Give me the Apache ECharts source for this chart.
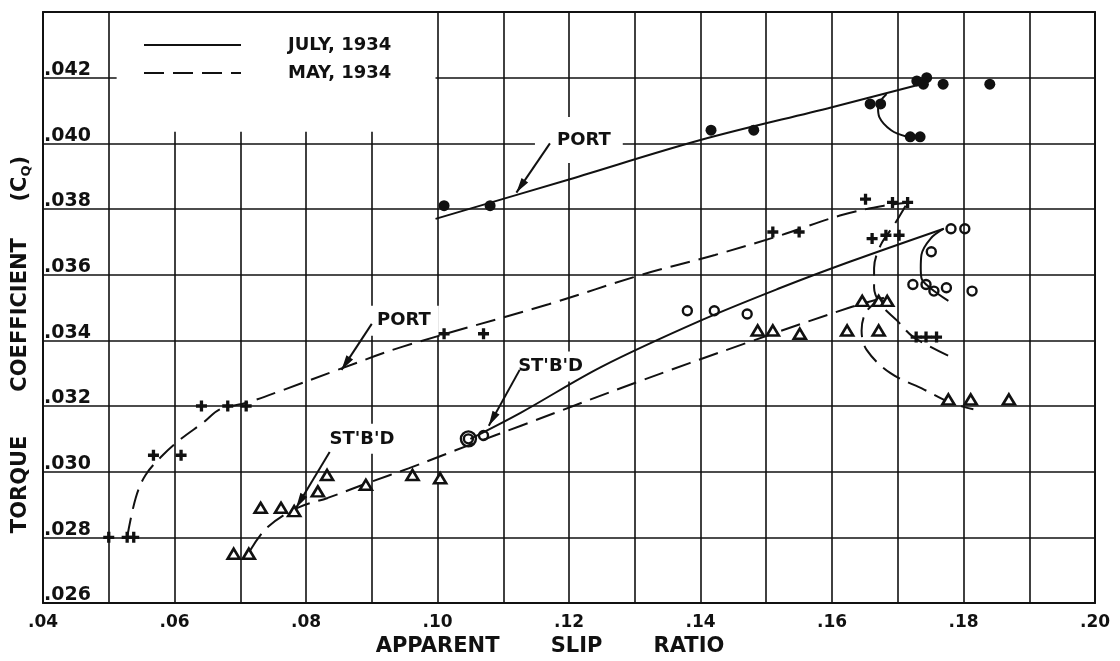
<!DOCTYPE html>
<html>
<head>
<meta charset="utf-8">
<title>Torque coefficient vs apparent slip ratio</title>
<script src="https://cdn.jsdelivr.net/npm/echarts@6/dist/echarts.min.js"></script>
<style>
  html, body { margin: 0; padding: 0; background: #fff; }
  #chart { width: 1120px; height: 661px; }
</style>
</head>
<body>
<div id="chart"></div>
<script>
// Axis tick values and their printed labels
const xTicks = [0.04, 0.06, 0.08, 0.10, 0.12, 0.14, 0.16, 0.18, 0.20];
const xTickLabels = ['.04', '.06', '.08', '.10', '.12', '.14', '.16', '.18', '.20'];
const yTicks = [0.026, 0.028, 0.030, 0.032, 0.034, 0.036, 0.038, 0.040, 0.042];
const yTickLabels = ['.026', '.028', '.030', '.032', '.034', '.036', '.038', '.040', '.042'];

const legendNames = ['JULY, 1934', 'MAY, 1934'];

// July 1934, port screw: observed points [slip ratio, torque coefficient]
const portJulyPoints = [
  [0.1010, 0.0381], [0.1080, 0.0381], [0.1416, 0.0404], [0.1481, 0.0404],
  [0.1658, 0.0412], [0.1674, 0.0412], [0.1719, 0.0402], [0.1734, 0.0402],
  [0.1729, 0.0419], [0.1744, 0.0420], [0.1739, 0.0418], [0.1769, 0.0418],
  [0.1840, 0.0418]
];
// July 1934, port: faired curve and its return branch
const portJulyCurve = [
  [0.0997, 0.0377], [0.120, 0.0389], [0.140, 0.0401], [0.160, 0.0411], [0.1735, 0.0418]
];
const portJulyHook = [
  [0.1683, 0.0415], [0.1670, 0.0411], [0.1672, 0.0408], [0.1690, 0.0404], [0.1714, 0.0402]
];

// July 1934, starboard screw: observed points (one point recorded twice)
const stbdJulyPoints = [
  [0.1047, 0.0310], [0.1047, 0.0310], [0.1070, 0.0311],
  [0.1380, 0.0349], [0.1421, 0.0349], [0.1471, 0.0348],
  [0.1781, 0.0374], [0.1802, 0.0374], [0.1751, 0.0367],
  [0.1723, 0.0357], [0.1743, 0.0357], [0.1755, 0.0355], [0.1774, 0.0356], [0.1813, 0.0355]
];
const stbdJulyCurve = [
  [0.1050, 0.0310], [0.1127, 0.0318], [0.1250, 0.0332], [0.1400, 0.0346],
  [0.1522, 0.0356], [0.1628, 0.0364], [0.1770, 0.0374]
];
const stbdJulyHook = [
  [0.1770, 0.0374], [0.1750, 0.0371], [0.1736, 0.0366], [0.1735, 0.0362],
  [0.1736, 0.0359], [0.1749, 0.0356], [0.1777, 0.0352]
];

// May 1934, port screw: observed points
const portMayPoints = [
  [0.0500, 0.0280], [0.0528, 0.0280], [0.0538, 0.0280],
  [0.0568, 0.0305], [0.0610, 0.0305],
  [0.0641, 0.0320], [0.0681, 0.0320], [0.0709, 0.0320],
  [0.1010, 0.0342], [0.1070, 0.0342],
  [0.1510, 0.0373], [0.1550, 0.0373],
  [0.1651, 0.0383], [0.1692, 0.0382], [0.1715, 0.0382],
  [0.1661, 0.0371], [0.1682, 0.0372], [0.1702, 0.0372],
  [0.1728, 0.0341], [0.1743, 0.0341], [0.1759, 0.0341]
];
const portMayCurve = [
  [0.0528, 0.0280], [0.0541, 0.0292], [0.0556, 0.0299], [0.0582, 0.0305],
  [0.0610, 0.0310], [0.0644, 0.0315], [0.0669, 0.0319], [0.0710, 0.0321],
  [0.0767, 0.0325], [0.0848, 0.0331], [0.0946, 0.0338],
  [0.1169, 0.0351], [0.1311, 0.0360], [0.1422, 0.0366], [0.1522, 0.0372],
  [0.1612, 0.0378], [0.1679, 0.0381], [0.1720, 0.0382]
];
const portMayHook = [
  [0.1712, 0.0381], [0.1694, 0.0375], [0.1674, 0.0369], [0.1664, 0.0362],
  [0.1664, 0.0356], [0.1674, 0.0351], [0.1699, 0.0346], [0.1724, 0.0341], [0.1780, 0.0335]
];

// May 1934, starboard screw: observed points
const stbdMayPoints = [
  [0.0690, 0.0275], [0.0713, 0.0275], [0.0731, 0.0289], [0.0762, 0.0289],
  [0.0782, 0.0288], [0.0818, 0.0294], [0.0832, 0.0299], [0.0891, 0.0296],
  [0.0962, 0.0299], [0.1004, 0.0298],
  [0.1487, 0.0343], [0.1510, 0.0343], [0.1551, 0.0342], [0.1623, 0.0343], [0.1671, 0.0343],
  [0.1646, 0.0352], [0.1671, 0.0352], [0.1684, 0.0352],
  [0.1777, 0.0322], [0.1811, 0.0322], [0.1869, 0.0322]
];
const stbdMayCurve = [
  [0.0715, 0.0276], [0.0741, 0.0283], [0.0787, 0.0289], [0.0833, 0.0292],
  [0.0900, 0.0297], [0.0956, 0.0301], [0.1008, 0.0305], [0.1047, 0.0308],
  [0.1127, 0.0314], [0.1300, 0.0327], [0.1467, 0.0339], [0.1627, 0.0350], [0.1679, 0.0353]
];
const stbdMayHook = [
  [0.1679, 0.0353], [0.1653, 0.0349], [0.1645, 0.0343], [0.1653, 0.0337],
  [0.1689, 0.0330], [0.1740, 0.0325], [0.1780, 0.0321], [0.1815, 0.0319]
];

const INK = '#111';
const FONT = '"DejaVu Sans", "Liberation Sans", sans-serif';

function tickText(ticks, labels, v) {
  for (let i = 0; i < ticks.length; i++) {
    if (Math.abs(ticks[i] - v) < 1e-7) return labels[i];
  }
  return '';
}

// Narrow arrowhead whose tip sits at the centre of its box
const ARROW = 'path://M5,15L10,30L0,30ZM5,0L5.01,0';
// Bold plus sign for the May port readings
const PLUS = 'path://M3.5,0H6.5V3.5H10V6.5H6.5V10H3.5V6.5H0V3.5H3.5Z';

function arrow(from, to) {
  return {
    silent: true,
    animation: false,
    lineStyle: { color: INK, width: 2, type: 'solid' },
    itemStyle: { color: INK },
    label: { show: false },
    emphasis: { disabled: true },
    data: [[
      { coord: from, symbol: 'none', symbolSize: 1 },
      { coord: to, symbol: ARROW, symbolSize: [8, 30] }
    ]]
  };
}

function curve(name, data, dashed, extra) {
  return Object.assign({
    name: name,
    type: 'line',
    data: data,
    smooth: 0.35,
    symbol: 'none',
    silent: true,
    z: 3,
    lineStyle: { color: INK, width: 2, type: dashed ? [20, 9] : 'solid' },
    itemStyle: { color: INK }
  }, extra || {});
}

// Repeated readings are drawn as a larger concentric ring
function ringSize(points, base, step) {
  return function (val, params) {
    let n = 0;
    for (let i = 0; i < params.dataIndex; i++) {
      const p = points[i];
      if (p[0] === val[0] && p[1] === val[1]) n++;
    }
    return base + n * step;
  };
}

const chart = echarts.init(document.getElementById('chart'), null, { renderer: 'canvas' });

const axisLineStyle = { color: INK, width: 2 };
const gridLineStyle = { color: INK, width: 1.6 };
const labelText = { fontFamily: FONT, fontWeight: 'bold', color: INK };

const option = {
  animation: false,
  backgroundColor: '#fff',
  textStyle: { fontFamily: FONT },
  grid: { left: 43, right: 25, top: 12, bottom: 58, outerBoundsMode: 'none' },
  legend: {
    data: legendNames,
    orient: 'vertical',
    left: 143,
    top: 36,
    padding: 0,
    itemWidth: 97,
    itemHeight: 14,
    itemGap: 10,
    selectedMode: false,
    itemStyle: { opacity: 0, borderWidth: 0 },
    textStyle: Object.assign({ fontSize: 18, lineHeight: 14, padding: [0, 0, 0, 42] }, labelText)
  },
  xAxis: [{
    type: 'value',
    min: 0.04, max: 0.20, interval: 0.01,
    name: 'APPARENT       SLIP       RATIO',
    nameLocation: 'middle',
    nameGap: 31,
    nameTextStyle: Object.assign({ fontSize: 21, padding: [0, 38, 0, 0] }, labelText),
    axisLine: { show: true, lineStyle: axisLineStyle },
    axisTick: { show: false },
    axisLabel: Object.assign({
      fontSize: 17, margin: 11,
      formatter: function (v) { return tickText(xTicks, xTickLabels, v); }
    }, labelText),
    splitLine: { show: true, lineStyle: gridLineStyle }
  }, {
    type: 'value',
    position: 'top',
    min: 0.04, max: 0.20,
    z: 10,
    axisLine: { show: true, lineStyle: axisLineStyle },
    axisTick: { show: false },
    axisLabel: { show: false },
    splitLine: { show: false }
  }],
  yAxis: [{
    type: 'value',
    min: 0.026, max: 0.044, interval: 0.002,
    name: '{t|TORQUE      COEFFICIENT     (C}{q|Q}{t|)}',
    nameLocation: 'middle',
    nameRotate: 90,
    nameGap: 9,
    nameTextStyle: Object.assign({
      fontSize: 21, padding: [0, 74, 0, 0],
      rich: {
        t: Object.assign({ fontSize: 21 }, labelText),
        q: Object.assign({ fontSize: 13, verticalAlign: 'bottom', padding: [12, 0, 0, 0] }, labelText)
      }
    }, labelText),
    axisLine: { show: true, lineStyle: axisLineStyle },
    axisTick: { show: false },
    axisLabel: Object.assign({
      inside: true, margin: 1, fontSize: 19, verticalAlign: 'bottom', lineHeight: 15,
      formatter: function (v) { return tickText(yTicks, yTickLabels, v); }
    }, labelText),
    splitLine: { show: true, lineStyle: gridLineStyle }
  }, {
    type: 'value',
    position: 'right',
    min: 0.026, max: 0.044,
    z: 10,
    axisLine: { show: true, lineStyle: axisLineStyle },
    axisTick: { show: false },
    axisLabel: { show: false },
    splitLine: { show: false }
  }],
  series: [
    curve(legendNames[0], portJulyCurve, false, { markLine: arrow([0.1171, 0.0400], [0.1120, 0.0385]) }),
    curve(legendNames[0], portJulyHook, false),
    curve(legendNames[0], stbdJulyCurve, false, { markLine: arrow([0.1125, 0.0331], [0.1078, 0.0314]) }),
    curve(legendNames[0], stbdJulyHook, false),
    curve(legendNames[1], portMayCurve, true, { markLine: arrow([0.0900, 0.0345], [0.0854, 0.0331]) }),
    curve(legendNames[1], portMayHook, true),
    curve(legendNames[1], stbdMayCurve, true, { markLine: arrow([0.0836, 0.0306], [0.0785, 0.0289]) }),
    curve(legendNames[1], stbdMayHook, true),
    {
      name: 'Port, July',
      type: 'scatter',
      data: portJulyPoints,
      symbol: 'circle',
      symbolSize: 11,
      silent: true,
      z: 5,
      itemStyle: { color: INK, opacity: 1 }
    },
    {
      name: 'Starboard, July',
      type: 'scatter',
      data: stbdJulyPoints,
      symbol: 'circle',
      symbolSize: ringSize(stbdJulyPoints, 9, 6),
      silent: true,
      z: 5,
      itemStyle: { color: 'rgba(255,255,255,0)', borderColor: INK, borderWidth: 2.4, opacity: 1 }
    },
    {
      name: 'Port, May',
      type: 'scatter',
      data: portMayPoints,
      symbol: PLUS,
      symbolSize: 11,
      silent: true,
      z: 5,
      itemStyle: { color: INK, opacity: 1 }
    },
    {
      name: 'Starboard, May',
      type: 'scatter',
      data: stbdMayPoints,
      symbol: 'triangle',
      symbolSize: [12, 10],
      silent: true,
      z: 5,
      itemStyle: { color: '#fff', borderColor: INK, borderWidth: 2.6, opacity: 1 }
    },
    {
      // Curve captions; their white boxes interrupt the ruling behind them
      name: 'Captions',
      type: 'scatter',
      symbolSize: 1,
      silent: true,
      z: 1,
      itemStyle: { color: 'rgba(0,0,0,0)', opacity: 1 },
      label: Object.assign({
        show: true, position: 'inside', fontSize: 18, opacity: 1,
        textBorderWidth: 0,
        backgroundColor: '#fff',
        formatter: function (p) { return p.name; }
      }, labelText),
      data: [
        { name: 'PORT', value: [0.1215, 0.0401], label: { padding: [14, 12, 14, 22] } },
        { name: 'PORT', value: [0.0949, 0.0346], label: { padding: [6, 8, 6, 8] } },
        { name: "ST'B'D", value: [0.1172, 0.0332], label: { padding: [6, 6, 6, 6] } },
        { name: "ST'B'D", value: [0.0885, 0.0310], label: { padding: [6, 6, 6, 6] } }
      ],
      markArea: {
        silent: true,
        itemStyle: { color: '#fff' },
        label: { show: false },
        data: [[{ coord: [0.0512, 0.04035] }, { coord: [0.0997, 0.044] }]]
      }
    }
  ]
};

chart.setOption(option);
</script>
</body>
</html>
